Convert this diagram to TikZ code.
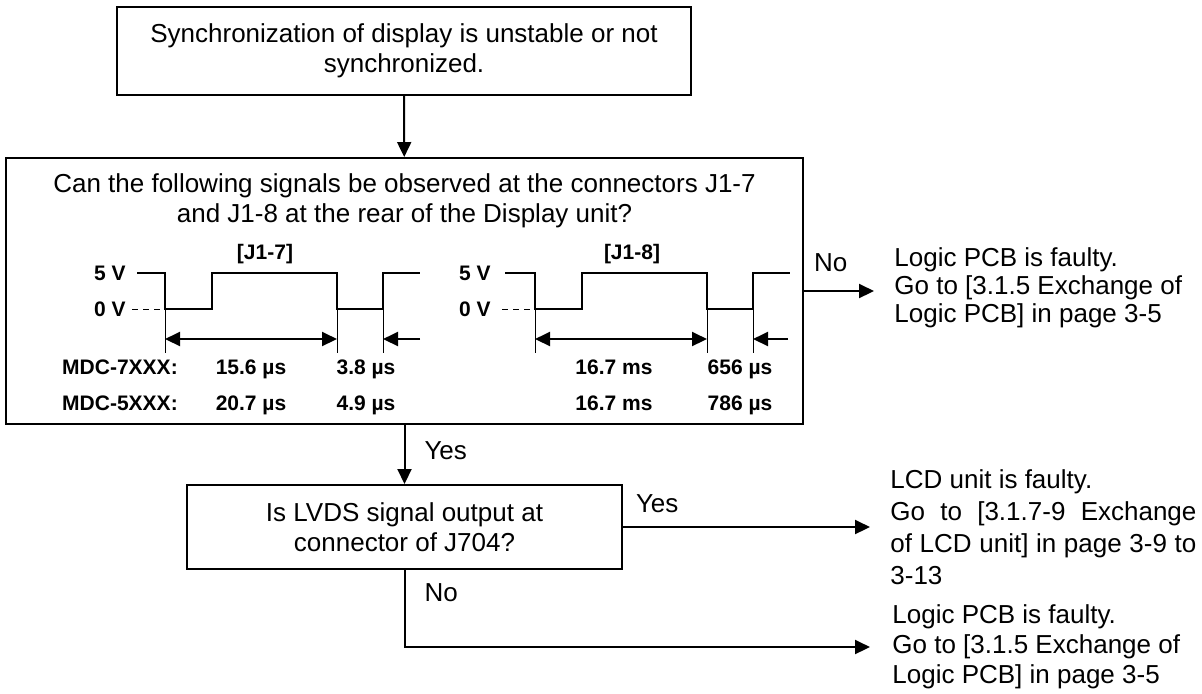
\documentclass[tikz,border=0pt]{standalone}
\usepackage{fontspec}
\setmainfont{Liberation Sans}
\usetikzlibrary{arrows.meta,positioning,calc}

\begin{document}
\begin{tikzpicture}[x=0.5pt,y=-0.5pt,font=\fontsize{13}{15}\selectfont,
  box/.style={draw,line width=1pt,align=center,inner sep=0pt},
  flow/.style={-{Triangle[length=7.5pt,width=7pt]},line width=1pt},
  wave/.style={line width=1pt},
  tick/.style={line width=0.5pt},
  sig/.style={font=\fontsize{10.5}{12}\selectfont\bfseries,inner sep=0pt},
  val/.style={sig,anchor=base},
  result/.style={align=left,inner sep=0pt,anchor=west}]
\useasboundingbox (0,0) rectangle (1202,693);

% boxes
\node[box,minimum width=287pt,minimum height=44pt] (start) at (404,51) {Synchronization of display is unstable or not\\synchronized.};
\node[box,minimum width=398.5pt,minimum height=133pt] (check) at (404.5,291) {};
\node[align=center,inner sep=0pt,below=8pt of check.north] (question) {Can the following signals be observed at the connectors J1-7\\and J1-8 at the rear of the Display unit?};
\node[box,minimum width=217.5pt,minimum height=42pt] (lvds) at (404.5,527) {Is LVDS signal output at\\connector of J704?};

% results
\node[result,font=\fontsize{13}{14}\selectfont] (fail1) at (894,288) {Logic PCB is faulty.\\Go to [3.1.5 Exchange of\\Logic PCB] in page 3-5};
\node[result,align=justify,text width=153pt,font=\fontsize{13}{16}\selectfont] (lcd) at (890,527) {LCD unit is faulty.\\Go to [3.1.7-9 Exchange\linebreak of LCD unit] in page 3-9 to\linebreak 3-13};
\node[result] (fail2) at (892,647) {Logic PCB is faulty.\\Go to [3.1.5 Exchange of\\Logic PCB] in page 3-5};

% J1-7 signal
\node[val] (j17) at (265,259) {[J1-7]};
\node[sig,anchor=east] (hi7) at (126,273) {5 V};
\node[sig,anchor=east] (lo7) at (126,309) {0 V};
\draw[wave] (137,273) -- (165,273) -- (165,309) -- (212,309) -- (212,273) -- (337,273) -- (337,309) -- (383,309) -- (383,273) -- (420,273);
\draw[tick,dash pattern=on 3pt off 2.5pt] (132,309) -- (165,309);
\draw[tick] (165,309) -- (165,353) (337,309) -- (337,353) (383,309) -- (383,353);
\draw[wave,{Triangle[length=7.5pt,width=7pt]}-{Triangle[length=7.5pt,width=7pt]}] (165,339) -- (337,339);
\draw[wave,-{Triangle[length=7.5pt,width=7pt]}] (420,339) -- (383,339);

% J1-8 signal
\node[val] (j18) at (632,259) {[J1-8]};
\node[sig,anchor=east] (hi8) at (491,273) {5 V};
\node[sig,anchor=east] (lo8) at (491,309) {0 V};
\draw[wave] (505,273) -- (535,273) -- (535,309) -- (582,309) -- (582,273) -- (707,273) -- (707,309) -- (753,309) -- (753,273) -- (790,273);
\draw[tick,dash pattern=on 3pt off 2.5pt] (502,309) -- (535,309);
\draw[tick] (535,309) -- (535,353) (707,309) -- (707,353) (753,309) -- (753,353);
\draw[wave,{Triangle[length=7.5pt,width=7pt]}-{Triangle[length=7.5pt,width=7pt]}] (535,339) -- (707,339);
\draw[wave,-{Triangle[length=7.5pt,width=7pt]}] (788,339) -- (753,339);

% timing values
\node[val] (m7) at (120,374) {MDC-7XXX:};
\node[val] (m5) at (120,410) {MDC-5XXX:};
\node[val] (t7a) at (251,374) {15.6 µs};
\node[val] (t7b) at (366,374) {3.8 µs};
\node[val] (t5a) at (251,410) {20.7 µs};
\node[val] (t5b) at (366,410) {4.9 µs};
\node[val] (v7a) at (614,374) {16.7 ms};
\node[val] (v7b) at (740,374) {656 µs};
\node[val] (v5a) at (614,410) {16.7 ms};
\node[val] (v5b) at (740,410) {786 µs};

% connectors
\draw[flow] (start) -- (check);
\draw[flow] (check) -- node[pos=0.43,right=9.5pt,inner sep=0pt] {Yes} (lvds);
\draw[flow,shorten >=10pt] (check.east) -- (check.east -| fail1.west) node[pos=0,above right=9pt and 4.5pt,inner sep=0pt] {No};
\draw[flow,shorten >=10pt] (lvds.east) -- (lvds.east -| lcd.west) node[pos=0,above right=6.5pt and 6pt,inner sep=0pt] {Yes};
\draw[flow,shorten >=11pt] (lvds.south) |- (fail2.west) node[pos=0.15,right=9.5pt,inner sep=0pt] {No};
\end{tikzpicture}
\end{document}
